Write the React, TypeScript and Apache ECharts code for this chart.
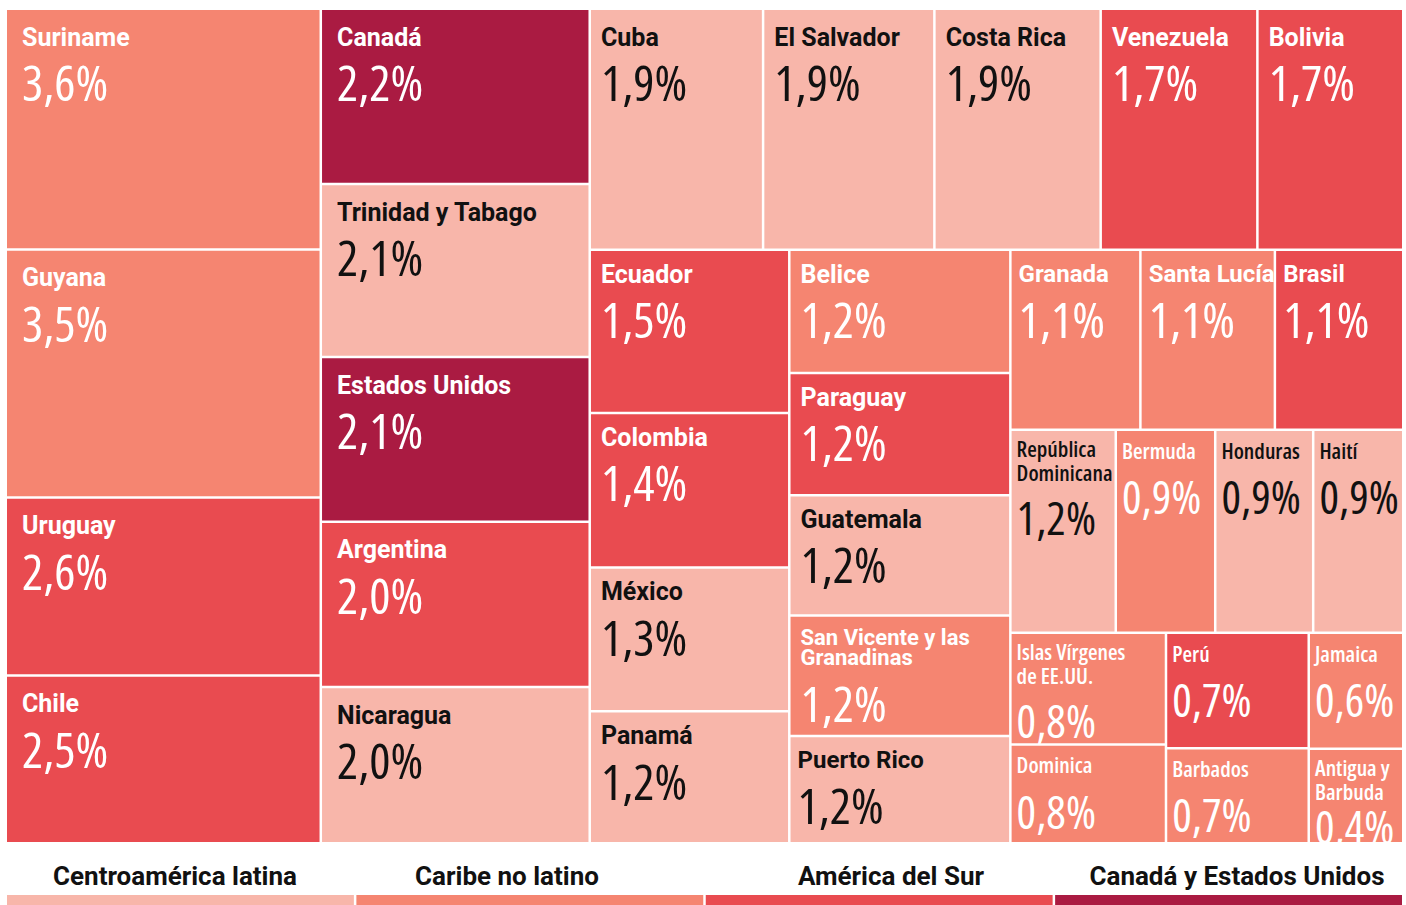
import React, { useEffect, useRef } from "react";
import * as echarts from "echarts";

// ---------- data ----------
const countryNames = [
  "Suriname", "Guyana", "Uruguay", "Chile",
  "Canadá", "Trinidad y Tabago", "Estados Unidos", "Argentina", "Nicaragua",
  "Cuba", "El Salvador", "Costa Rica", "Venezuela", "Bolivia",
  "Ecuador", "Colombia", "México", "Panamá",
  "Belice", "Paraguay", "Guatemala", "San Vicente y las\nGranadinas", "Puerto Rico",
  "Granada", "Santa Lucía", "Brasil",
  "República\nDominicana", "Bermuda", "Honduras", "Haití",
  "Islas Vírgenes\nde EE.UU.", "Dominica", "Perú", "Barbados", "Jamaica", "Antigua y\nBarbuda",
];

// percentages printed on each tile
const shareValues = [
  3.6, 3.5, 2.6, 2.5,
  2.2, 2.1, 2.1, 2.0, 2.0,
  1.9, 1.9, 1.9, 1.7, 1.7,
  1.5, 1.4, 1.3, 1.2,
  1.2, 1.2, 1.2, 1.2, 1.2,
  1.1, 1.1, 1.1,
  1.2, 0.9, 0.9, 0.9,
  0.8, 0.8, 0.7, 0.7, 0.6, 0.4,
];

// tile sizes (relative areas)
const areaWeights = [
  75.5, 77.8, 55.8, 52.6,
  46.9, 46.3, 44.1, 44.3, 41.8,
  41.6, 41.1, 39.9, 37.6, 35.0,
  32.4, 30.7, 28.6, 26.2,
  27.1, 26.9, 26.5, 26.5, 23.6,
  23.3, 24.1, 23.0,
  21.3, 20.1, 19.8, 18.2,
  17.3, 15.3, 16.4, 13.5, 10.9, 8.9,
];

const regionOfCountry = [
  "CNL", "CNL", "AS", "AS",
  "CEU", "CAL", "CEU", "AS", "CAL",
  "CAL", "CAL", "CAL", "AS", "AS",
  "AS", "AS", "CAL", "CAL",
  "CNL", "AS", "CAL", "CNL", "CAL",
  "CNL", "CNL", "AS",
  "CAL", "CNL", "CAL", "CAL",
  "CNL", "CNL", "AS", "CNL", "CNL", "CNL",
];

const regionCodes = ["CAL", "CNL", "AS", "CEU"];
const regionLabels = ["Centroamérica latina", "Caribe no latino", "América del Sur", "Canadá y Estados Unidos"];

// ---------- styles ----------
const REGION_COLORS: Record<string, string> = {
  CAL: "#F8B6AA",
  CNL: "#F58571",
  AS: "#E94B50",
  CEU: "#AA1B42",
};
const DARK_TEXT_REGIONS = ["CAL"];

const NAME_FONT = "Roboto, 'Noto Sans', sans-serif";
// Open Sans is rendered condensed through the CSS rule below (font-stretch)
const COND_FONT = "'Open Sans', sans-serif";

const fmtPct = (v: number) => v.toFixed(1).replace(".", ",") + "%";

function buildRich() {
  const r: Record<string, any> = {};
  const colors: Record<string, string> = { L: "#ffffff", D: "#111111" };
  for (const k of ["L", "D"]) {
    const c = colors[k];
    const bigName = { fontFamily: NAME_FONT, fontWeight: "bold", fontSize: 25, color: c };
    const medName = { fontFamily: NAME_FONT, fontWeight: "bold", fontSize: 24, color: c };
    const midName = { fontFamily: NAME_FONT, fontWeight: "bold", fontSize: 22, color: c };
    const smallName = { fontFamily: COND_FONT, fontWeight: 600, fontSize: 22, color: c };
    const pct = { fontFamily: COND_FONT, fontWeight: 500, fontSize: 50, color: c };
    const pctS = { fontFamily: COND_FONT, fontWeight: 500, fontSize: 46, color: c };
    r["bn" + k] = { ...bigName, lineHeight: 38 };
    r["mn" + k] = { ...medName, lineHeight: 38 };
    r["bp" + k] = { ...pct, lineHeight: 52 };
    r["bt" + k] = { ...midName, lineHeight: 20 };
    r["bu" + k] = { ...midName, lineHeight: 20 };
    r["bq" + k] = { ...pct, lineHeight: 70 };
    r["sn" + k] = { ...smallName, lineHeight: 29 };
    r["sp" + k] = { ...pctS, lineHeight: 64 };
    r["st" + k] = { ...smallName, lineHeight: 26 };
    r["su" + k] = { ...smallName, lineHeight: 22 };
    r["sq" + k] = { ...pctS, lineHeight: 67 };
    r["sr" + k] = { ...pctS, lineHeight: 48 };
  }
  return r;
}

function buildData() {
  return countryNames.map((name, i) => {
    const w = areaWeights[i];
    const small = w < 22;
    const narrow = !small && w < 25;
    const lines = name.split("\n");
    const twoLine = lines.length > 1;
    const k = DARK_TEXT_REGIONS.includes(regionOfCountry[i]) ? "D" : "L";
    const padX = w >= 41.7 ? 15 : small ? 5 : narrow ? 7 : 10;
    let padY = small ? 4 : w >= 34 ? 8 : 4;
    if (!small && twoLine) padY = 11;
    const pct = fmtPct(shareValues[i]);
    let labelText: string;
    if (!twoLine) {
      const nStyle = small ? "sn" : narrow ? "mn" : "bn";
      labelText = `{${nStyle}${k}|${lines[0]}}\n{${small ? "sp" : "bp"}${k}|${pct}}`;
    } else {
      const pStyle = small ? (w < 10 ? "sr" : "sq") : "bq";
      labelText =
        `{${small ? "st" : "bt"}${k}|${lines[0]}}\n` +
        `{${small ? "su" : "bu"}${k}|${lines[1]}}\n` +
        `{${pStyle}${k}|${pct}}`;
    }
    return {
      name: lines.join(" "),
      value: w,
      labelText,
      itemStyle: { color: REGION_COLORS[regionOfCountry[i]] },
      label: { position: [padX, padY] },
    };
  });
}

function buildLegendGraphics() {
  const left = 7;
  const total = 1395;
  const gap = 2.5;
  const barW = (total - gap * 3) / 4;
  const textCenters = [175, 507, 891, 1237];
  const els: any[] = [];
  regionCodes.forEach((code, i) => {
    els.push({
      type: "rect",
      shape: { x: left + i * (barW + gap), y: 895, width: barW, height: 12 },
      style: { fill: REGION_COLORS[code] },
      silent: true,
    });
    els.push({
      type: "text",
      style: {
        text: regionLabels[i],
        x: textCenters[i],
        y: 876,
        textAlign: "center",
        textVerticalAlign: "middle",
        fill: "#111111",
        font: `bold 26px ${NAME_FONT}`,
      },
      silent: true,
    });
  });
  return els;
}

export default function App() {
  const ref = useRef<HTMLDivElement>(null);
  useEffect(() => {
    if (!ref.current) return;
    const chart = echarts.init(ref.current, null, { renderer: "svg" });
    chart.setOption({
      animation: false,
      backgroundColor: "#ffffff",
      series: [
        {
          type: "treemap",
          left: 7,
          top: 10,
          width: 1395,
          height: 832,
          roam: false,
          nodeClick: false,
          sort: false,
          silent: true,
          breadcrumb: { show: false },
          itemStyle: { gapWidth: 2.5, borderWidth: 0, borderColor: "#ffffff" },
          levels: [{ itemStyle: { gapWidth: 2.5, borderWidth: 0, borderColor: "#ffffff" } }],
          upperLabel: { show: false },
          label: {
            show: true,
            position: [10, 8],
            padding: [0, 0, -200, 0],
            overflow: "none",
            formatter: (p: any) => p.data.labelText,
            rich: buildRich(),
          },
          data: buildData(),
        },
      ],
      graphic: buildLegendGraphics(),
    });
    return () => chart.dispose();
  }, []);
  return (
    <>
      <style>{`text[style*="Open Sans"], tspan[style*="Open Sans"] { font-stretch: condensed !important; }`}</style>
      <div
        ref={ref}
        style={{ position: "absolute", left: 0, top: 0, width: 1406, height: 905, background: "#fff" }}
      />
    </>
  );
}
